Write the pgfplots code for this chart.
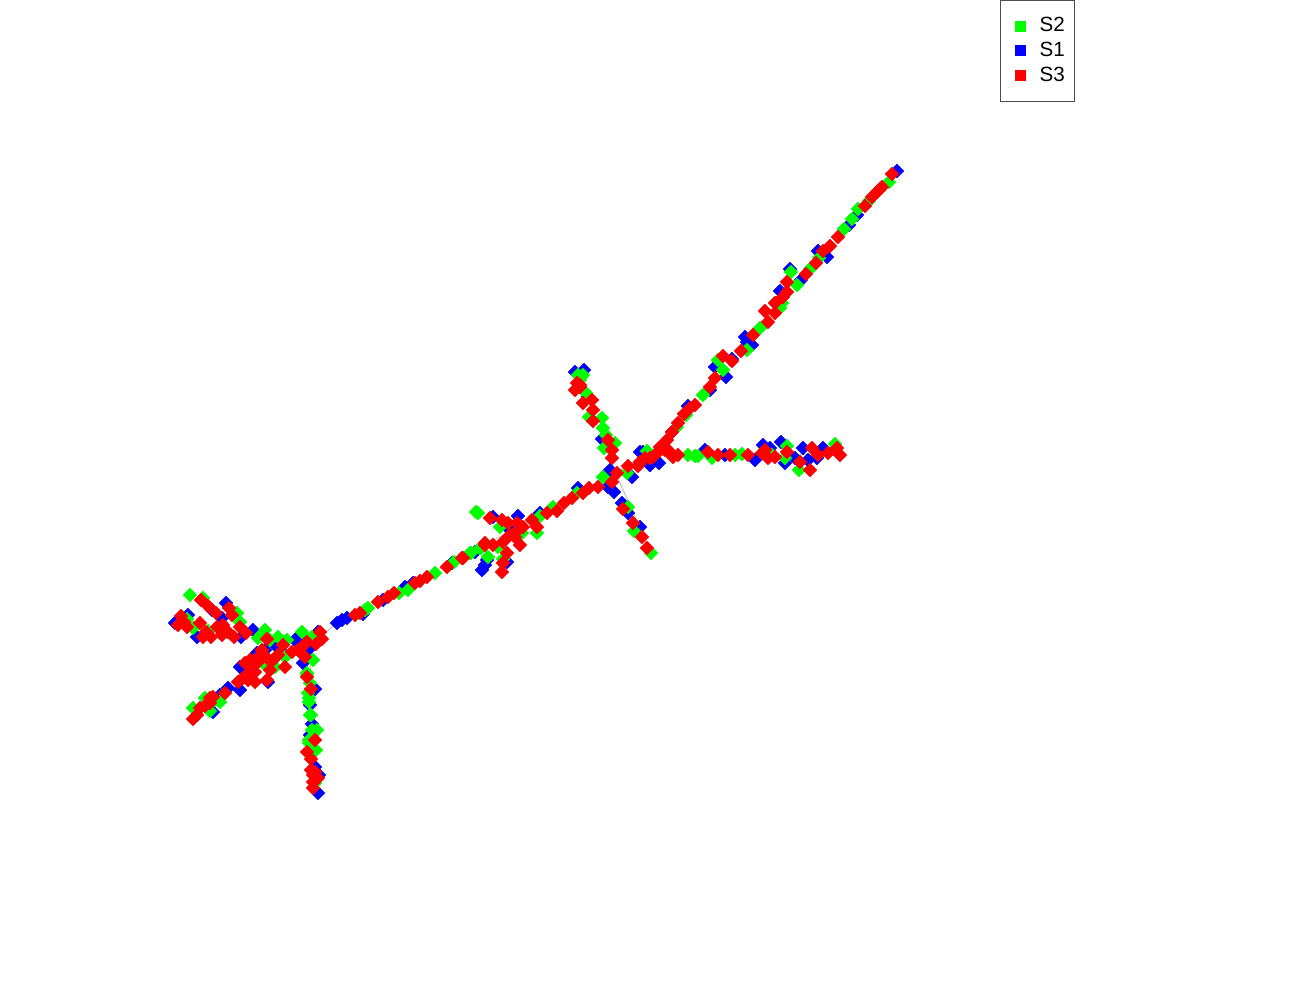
\documentclass[border=0pt]{standalone}
\usepackage{fontspec}
\setmainfont{Liberation Sans}
\usepackage{pgfplots}
\pgfplotsset{compat=1.18}

% positions, in pixels of the 1300x1000 frame
\pgfplotsset{pts/.style={only marks, forget plot, mark=square*, mark size=2.4pt,
    mark options={rotate=45, line width=0.2pt, draw=#1, fill=#1}}}

\begin{document}
\begin{tikzpicture}
\useasboundingbox (0,0) rectangle (650pt,500pt);
\begin{axis}[
    at={(0,0)}, anchor=south west,
    scale only axis, width=650pt, height=500pt,
    xmin=0, xmax=1300, ymin=0, ymax=1000, y dir=reverse,
    hide axis, clip=false,
    legend cell align=left,
    legend style={at={(axis cs:1000,0)}, anchor=north west, draw=black!70, line width=0.5pt,
        font=\fontsize{10.3pt}{12pt}\selectfont, row sep=-0.3pt, column sep=5pt,
        inner xsep=3pt, inner ysep=6.5pt},
]
\addlegendimage{legend image code/.code={\path (0pt,0pt); \fill[green] (4pt,-2.5pt) rectangle (9pt,2.5pt);}}
\addlegendentry{S2}
\addlegendimage{legend image code/.code={\path (0pt,0pt); \fill[blue] (4pt,-2.5pt) rectangle (9pt,2.5pt);}}
\addlegendentry{S1}
\addlegendimage{legend image code/.code={\path (0pt,0pt); \fill[red] (4pt,-2.5pt) rectangle (9pt,2.5pt);}}
\addlegendentry{S3}

% thin grey tree underneath
\addplot[forget plot, black!25, line width=0.5pt] coordinates {(193,719) (250,665) (310,645) (337,623) (485,545) (620,470) (660,445) (703,395) (897,171)};
\addplot[forget plot, black!25, line width=0.5pt] coordinates {(578,372) (612,465) (651,553)};
\addplot[forget plot, black!25, line width=0.5pt] coordinates {(620,470) (670,453) (840,455)};
\addplot[forget plot, black!25, line width=0.5pt] coordinates {(310,650) (315,793)};

% S1
\addplot[pts=blue] coordinates {
(226,603) (197,637) (188,615) (175,623) (212,610) (222,618) (241,637) (253,630)
(240,667) (273,643) (300,635) (240,690) (228,688) (220,695) (213,712) (268,682)
(315,689) (312,724) (337,623) (303,663) (310,648) (310,705) (257,653) (312,735)
(310,735) (315,767) (319,775) (318,793) (265,650) (280,650) (295,640) (318,632)
(575,372) (584,370) (588,397) (602,439) (608,487) (614,492) (640,452) (659,463)
(650,465) (610,470) (632,477) (622,503) (628,513) (640,527) (518,516) (482,570)
(485,565) (507,562) (578,488) (540,513) (493,517) (487,560) (510,530)
(643,452) (650,465) (705,450) (725,455) (755,460) (763,445) (781,442) (785,463)
(803,448) (823,448) (817,458) (672,432) (770,448) (795,458) (808,460) (688,406)
(897,171) (857,215) (849,225) (827,257) (818,251) (801,280) (790,269) (780,291)
(747,342) (752,345) (745,337) (732,359) (715,367) (726,377) (710,390)
(347,618) (363,614) (383,600) (405,587) (413,583) (452,563) (475,552) (342,620)
};
% S2
\addplot[pts=green] coordinates {
(190,595) (203,598) (237,613) (240,622) (187,619) (208,631) (193,628) (227,632)
(265,630) (258,638) (278,637) (287,640) (302,632) (312,637) (263,663) (275,667)
(247,675) (210,711) (193,708) (205,698) (220,702) (307,673) (310,683) (308,693)
(309,702) (311,715) (317,730) (313,660) (285,657) (307,675) (309,698) (310,715)
(312,730) (309,743) (316,750) (309,740) (315,783) (270,640) (265,637) (215,700)
(578,375) (583,375) (586,393) (602,418) (603,428) (604,448) (615,443) (589,417)
(603,477) (627,473) (647,451) (580,380) (606,435)
(478,513) (537,533) (540,516) (500,527) (522,533) (498,547) (488,557) (503,559)
(470,553) (481,548) (553,507) (628,507) (634,531) (651,553) (577,493) (476,512)
(688,455) (698,456) (712,458) (735,455) (742,454) (772,455) (785,458) (799,470)
(835,444) (677,427) (787,446) (703,395) (686,415) (695,456)
(889,182) (869,201) (858,209) (852,219) (844,229) (819,258) (810,269) (797,285)
(791,272) (782,303) (780,308) (760,328) (747,350) (723,370) (718,360)
(365,610) (368,608) (399,593) (408,590) (435,573) (454,562) (471,553) (480,548)
};
% S3
\addplot[pts=red] coordinates {
(201,600) (208,606) (216,613) (229,608) (232,615) (181,616) (178,625) (187,627)
(200,623) (223,625) (217,627) (203,637) (211,637) (222,635) (234,637) (240,627)
(246,633) (267,639) (250,660) (245,663) (260,655) (267,658) (273,660) (255,672)
(248,680) (238,682) (270,670) (285,667) (283,645) (292,652) (305,657) (307,642)
(316,644) (320,632) (322,639) (267,680) (213,697) (225,693) (210,703) (200,708)
(197,715) (193,719) (307,677) (311,689) (315,740) (307,752) (311,759) (313,775)
(318,778) (313,788) (252,668) (258,662) (262,650) (250,672) (243,678) (278,655)
(298,650) (302,647) (205,706) (210,698) (184,622) (206,632) (228,632) (255,682)
(315,772) (311,770) (313,782)
(580,387) (575,390) (583,403) (592,400) (593,410) (593,421) (608,440) (612,450)
(612,458) (617,473) (612,482) (628,466) (638,466) (650,458) (660,447) (663,445)
(673,457) (668,450) (598,487) (589,488) (583,493) (572,498) (564,503) (557,511)
(547,513) (537,527) (532,520) (523,527) (517,523) (518,530) (508,523) (502,520)
(490,518) (520,545) (515,537) (503,542) (485,543) (493,545) (507,553) (503,563)
(502,572) (463,558) (623,509) (633,523) (642,537) (647,548) (580,385) (577,383)
(653,457) (670,453) (678,455) (708,452) (718,455) (730,455) (748,455) (510,535)
(762,453) (775,457) (787,452) (800,462) (810,470) (812,448) (818,455) (828,453)
(840,455) (837,448) (765,450) (768,458) (658,452) (665,450) (645,458) (640,462)
(667,440) (672,432) (678,423) (684,414) (690,408) (695,405)
(892,174) (882,187) (877,192) (872,197) (865,206) (838,237) (830,246) (823,251)
(816,263) (806,274) (787,282) (787,292) (783,297) (775,303) (775,313) (765,311)
(768,322) (753,335) (741,351) (732,361) (723,356) (715,378) (710,387) (879,190)
(355,615) (360,613) (378,602) (388,597) (394,593) (415,583) (420,581) (427,577)
(447,567) (462,558) (485,545)
};
\end{axis}
\end{tikzpicture}
\end{document}
